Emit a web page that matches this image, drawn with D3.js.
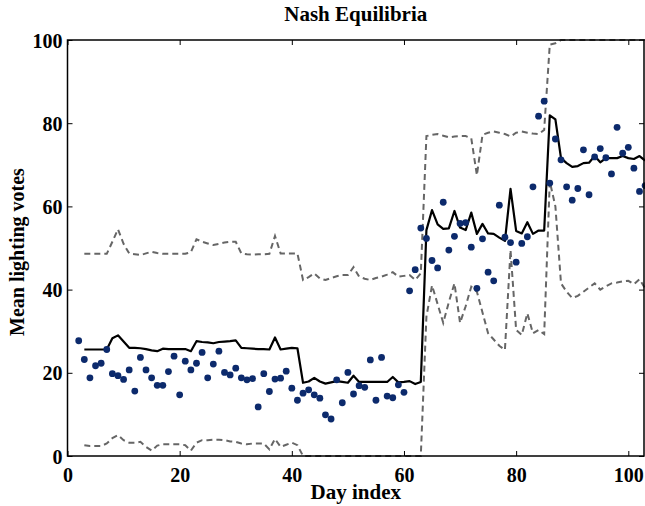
<!DOCTYPE html>
<html>
<head>
<meta charset="utf-8">
<script src="https://cdn.jsdelivr.net/npm/d3@7"></script>
<style>
  body { margin: 0; background: #fff; }
  text { font-family: "Liberation Serif", "Times New Roman", serif; font-weight: bold; fill: #000; }
</style>
</head>
<body>
<script>
// daily votes (scatter), days 2..103
var VOTE_DAYS = d3.range(2, 104);
var VOTES = [27.7, 23.2, 18.8, 21.7, 22.3, 25.6, 19.8, 19.3, 18.4, 20.7,
  15.6, 23.7, 20.7, 18.8, 17.0, 17.0, 20.3, 24.0, 14.7, 22.8,
  20.7, 22.3, 24.9, 18.8, 22.1, 25.2, 20.1, 19.5, 21.1, 18.8,
  18.3, 18.6, 11.8, 19.8, 15.5, 18.5, 18.7, 20.4, 16.3, 13.4,
  15.1, 15.9, 14.7, 13.9, 9.9, 8.9, 18.3, 12.8, 20.1, 14.9,
  16.9, 16.5, 23.1, 13.4, 23.7, 14.4, 14.0, 17.1, 15.3, 39.7,
  44.8, 54.8, 52.3, 47.0, 45.2, 61.0, 49.5, 52.8, 55.9, 56.1,
  50.2, 40.3, 52.2, 44.2, 42.1, 60.3, 52.6, 51.3, 46.6, 51.1,
  52.7, 64.7, 81.7, 85.3, 65.6, 76.2, 71.2, 64.7, 61.5, 64.3,
  73.6, 62.8, 71.9, 73.9, 71.7, 67.8, 79.0, 72.8, 74.2, 69.2,
  63.6, 65.0];

// equilibrium mean and bounds, days 3..103
var LINE_DAYS = d3.range(3, 104);
var MEAN = [25.6, 25.6, 25.6, 25.6, 25.6, 28.3, 29.0, 27.5, 26.0, 26.0,
  25.9, 25.7, 25.4, 25.2, 25.8, 25.7, 25.7, 25.7, 25.7, 25.2,
  27.6, 27.4, 27.3, 27.1, 27.4, 27.5, 27.6, 27.8, 26.0, 25.9,
  25.8, 25.7, 25.7, 25.6, 28.5, 25.6, 25.8, 26.0, 25.9, 17.6,
  17.9, 18.8, 17.9, 17.4, 17.7, 18.0, 17.8, 17.6, 19.3, 17.8,
  17.8, 17.8, 17.8, 17.8, 17.8, 19.0, 17.7, 17.8, 18.0, 17.3,
  17.8, 54.3, 59.1, 55.7, 54.6, 54.7, 58.9, 54.9, 54.3, 58.5,
  53.4, 55.8, 53.5, 53.4, 52.5, 51.7, 64.2, 54.1, 53.5, 56.2,
  53.4, 54.2, 54.2, 81.9, 80.9, 71.6, 70.4, 69.5, 69.7, 70.4,
  70.5, 72.1, 70.6, 71.6, 71.6, 71.6, 72.1, 71.6, 71.4, 72.1,
  71.0];
var UPPER = [48.6, 48.6, 48.6, 48.6, 48.6, 51.5, 54.5, 51.0, 48.7, 48.5,
  48.3, 48.7, 49.1, 48.8, 48.6, 48.6, 48.6, 48.6, 48.6, 49.0,
  52.1, 51.5, 51.1, 50.7, 51.0, 51.3, 51.5, 51.5, 48.7, 48.5,
  48.4, 48.5, 48.5, 48.6, 52.9, 48.7, 48.7, 48.7, 48.7, 42.3,
  43.0, 43.9, 42.7, 42.3, 42.8, 43.2, 43.5, 43.5, 45.4, 43.1,
  42.6, 42.3, 42.8, 43.1, 43.6, 44.2, 43.1, 43.3, 43.5, 42.3,
  43.9, 76.9, 77.2, 77.4, 77.0, 76.6, 76.8, 76.9, 76.9, 76.4,
  67.5, 77.2, 77.7, 78.0, 77.7, 77.4, 76.8, 77.7, 78.0, 77.7,
  77.5, 77.4, 78.4, 98.9, 99.2, 100, 100, 100, 100, 100,
  100, 100, 100, 100, 100, 100, 100, 100, 100, 100,
  100];
var LOWER = [2.6, 2.4, 2.4, 2.4, 3.0, 4.3, 5.0, 3.8, 3.2, 3.2,
  3.4, 2.2, 1.3, 2.5, 2.8, 2.8, 2.8, 2.8, 2.6, 1.3,
  3.2, 3.8, 3.8, 3.9, 3.9, 3.8, 3.5, 3.4, 3.0, 2.8,
  3.0, 3.0, 3.0, 1.6, 4.1, 2.2, 2.7, 3.2, 2.6, 0,
  0, 0, 0, 0, 0, 0, 0, 0, 0, 0,
  0, 0, 0, 0, 0, 0, 0, 0, 0, 0,
  0, 33.5, 41.0, 36.5, 32.0, 37.0, 41.5, 32.0, 36.0, 40.7,
  39.5, 34.5, 29.5, 28.0, 26.5, 25.5, 49.5, 30.3, 29.1, 34.3,
  29.5, 30.3, 29.3, 66.0, 60.0, 41.5, 39.5, 38.0, 38.5, 39.5,
  40.5, 41.5, 40.0, 40.8, 41.5, 41.7, 42.0, 42.1, 41.3, 42.5,
  40.3];

var X_TICKS = [0, 20, 40, 60, 80, 100];
var Y_TICKS = [0, 20, 40, 60, 80, 100];

var W = 645, H = 506;
var margin = { top: 40, right: 1, left: 67.5, bottom: 50 };
var width = W - margin.left - margin.right;
var height = H - margin.top - margin.bottom;

var svg = d3.select("body").append("svg").attr("width", W).attr("height", H);
var g = svg.append("g").attr("transform", "translate(" + margin.left + "," + margin.top + ")");

var x = d3.scaleLinear().domain([0, 102.8]).range([0, width]);
var y = d3.scaleLinear().domain([0, 100]).range([height, 0]);

// frame with inward ticks on every side
function styleAxis(sel, labels) {
  sel.select(".domain").remove();
  sel.selectAll(".tick line").attr("stroke", "#000").attr("stroke-width", 1);
  if (!labels) sel.selectAll(".tick text").remove();
}
g.append("g").attr("transform", "translate(0," + height + ")")
  .call(d3.axisBottom(x).tickValues(X_TICKS).tickSize(-5).tickPadding(12))
  .call(styleAxis, true)
  .selectAll("text").style("font-size", "20px").attr("dy", "0.72em");
g.append("g")
  .call(d3.axisTop(x).tickValues(X_TICKS).tickSize(-5))
  .call(styleAxis, false);
g.append("g")
  .call(d3.axisLeft(y).tickValues(Y_TICKS).tickSize(-5).tickPadding(5))
  .call(styleAxis, true)
  .selectAll("text").style("font-size", "20px").attr("dy", "0.35em");
g.append("g").attr("transform", "translate(" + width + ",0)")
  .call(d3.axisRight(y).tickValues(Y_TICKS).tickSize(-5))
  .call(styleAxis, false);

var lineOf = function (vals) {
  return d3.line().x(function (d, i) { return x(LINE_DAYS[i]); }).y(function (d) { return y(d); })(vals);
};

[UPPER, LOWER].forEach(function (s) {
  g.append("path").attr("d", lineOf(s)).attr("fill", "none")
    .attr("stroke", "#666").attr("stroke-width", 2).attr("stroke-dasharray", "6,4");
});

g.append("path").attr("d", lineOf(MEAN)).attr("fill", "none")
  .attr("stroke", "#000").attr("stroke-width", 2.2).attr("stroke-linejoin", "round");

g.selectAll("circle").data(VOTES).enter().append("circle")
  .attr("cx", function (d, i) { return x(VOTE_DAYS[i]); })
  .attr("cy", function (d) { return y(d); })
  .attr("r", 3.4).attr("fill", "#0c2a6c");

g.append("rect").attr("width", width).attr("height", height)
  .attr("fill", "none").attr("stroke", "#000").attr("stroke-width", 1.5);

svg.append("text").attr("x", margin.left + width / 2).attr("y", 21)
  .attr("text-anchor", "middle").style("font-size", "21px").text("Nash Equilibria");
svg.append("text").attr("x", margin.left + width / 2).attr("y", 499)
  .attr("text-anchor", "middle").style("font-size", "21px").text("Day index");
svg.append("text").attr("transform", "translate(24," + (margin.top + height / 2 + 4) + ") rotate(-90)")
  .attr("text-anchor", "middle").style("font-size", "20px").text("Mean lighting votes");
</script>
</body>
</html>
